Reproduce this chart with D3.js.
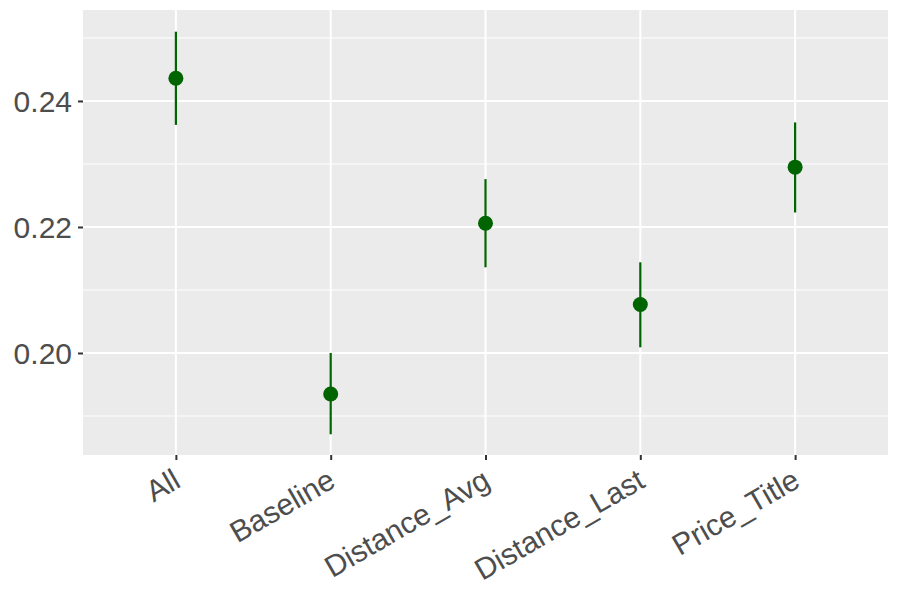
<!DOCTYPE html>
<html>
<head>
<meta charset="utf-8">
<script src="https://cdn.jsdelivr.net/npm/d3@7"></script>
<style>
  body { margin: 0; background: #fff; }
  text { font-family: "Liberation Sans", Arial, sans-serif; }
</style>
</head>
<body>
<div id="chart"></div>
<script>
// data
var categories = ["All", "Baseline", "Distance_Avg", "Distance_Last", "Price_Title"];
var estimates = [0.2436, 0.1935, 0.2206, 0.2077, 0.2295];
var lower = [0.2362, 0.1871, 0.2136, 0.2009, 0.2223];
var upper = [0.2510, 0.2000, 0.2276, 0.2144, 0.2366];
var yTicks = [0.20, 0.22, 0.24];
var yMinor = [0.19, 0.21, 0.23, 0.25];

var width = 900, height = 600;
var margin = { top: 10, right: 12, bottom: 145, left: 83 };
var w = width - margin.left - margin.right,
    h = height - margin.top - margin.bottom;

var svg = d3.select("#chart")
  .append("svg")
  .attr("width", width)
  .attr("height", height)
  .append("g")
  .attr("transform", "translate(" + margin.left + "," + margin.top + ")");

// panel background
svg.append("rect")
  .attr("width", w)
  .attr("height", h)
  .attr("fill", "#EBEBEB");

// discrete x, with ggplot-like 0.6 expansion each side
var x = d3.scalePoint()
  .domain(categories)
  .range([0, w])
  .padding(0.6);

var y = d3.scaleLinear()
  .domain([0.18381, 0.25444])
  .range([h, 0]);

// minor grid
svg.selectAll(".minor")
  .data(yMinor)
  .enter().append("line")
  .attr("x1", 0).attr("x2", w)
  .attr("y1", function (d) { return y(d); })
  .attr("y2", function (d) { return y(d); })
  .attr("stroke", "#fff")
  .attr("stroke-width", 1);

// major grid
svg.selectAll(".majorY")
  .data(yTicks)
  .enter().append("line")
  .attr("x1", 0).attr("x2", w)
  .attr("y1", function (d) { return y(d); })
  .attr("y2", function (d) { return y(d); })
  .attr("stroke", "#fff")
  .attr("stroke-width", 2);

svg.selectAll(".majorX")
  .data(categories)
  .enter().append("line")
  .attr("x1", function (d) { return x(d); })
  .attr("x2", function (d) { return x(d); })
  .attr("y1", 0).attr("y2", h)
  .attr("stroke", "#fff")
  .attr("stroke-width", 2);

// axes
var yAxis = svg.append("g")
  .call(d3.axisLeft(y).tickValues(yTicks).tickFormat(d3.format(".2f")).tickSize(5).tickPadding(6));
yAxis.select(".domain").remove();
yAxis.selectAll("line").attr("stroke", "#333").attr("stroke-width", 2);
yAxis.selectAll("text").attr("fill", "#4D4D4D").style("font-size", "30px").attr("dy", "0.36em");

var xAxis = svg.append("g")
  .attr("transform", "translate(0," + h + ")")
  .call(d3.axisBottom(x).tickSize(5).tickPadding(4));
xAxis.select(".domain").remove();
xAxis.selectAll("line").attr("stroke", "#333").attr("stroke-width", 2);
xAxis.selectAll("text")
  .attr("fill", "#4D4D4D")
  .style("font-size", "30px")
  .attr("text-anchor", "end")
  .attr("x", 0)
  .attr("y", 0)
  .attr("dy", 0)
  .attr("transform", "translate(6,31) rotate(-30)");

// error bars
svg.selectAll(".err")
  .data(categories)
  .enter().append("line")
  .attr("x1", function (d) { return x(d); })
  .attr("x2", function (d) { return x(d); })
  .attr("y1", function (d, i) { return y(lower[i]); })
  .attr("y2", function (d, i) { return y(upper[i]); })
  .attr("stroke", "#006400")
  .attr("stroke-width", 2.2);

// points
svg.selectAll(".pt")
  .data(categories)
  .enter().append("circle")
  .attr("cx", function (d) { return x(d); })
  .attr("cy", function (d, i) { return y(estimates[i]); })
  .attr("r", 7.5)
  .attr("fill", "#006400");
</script>
</body>
</html>
